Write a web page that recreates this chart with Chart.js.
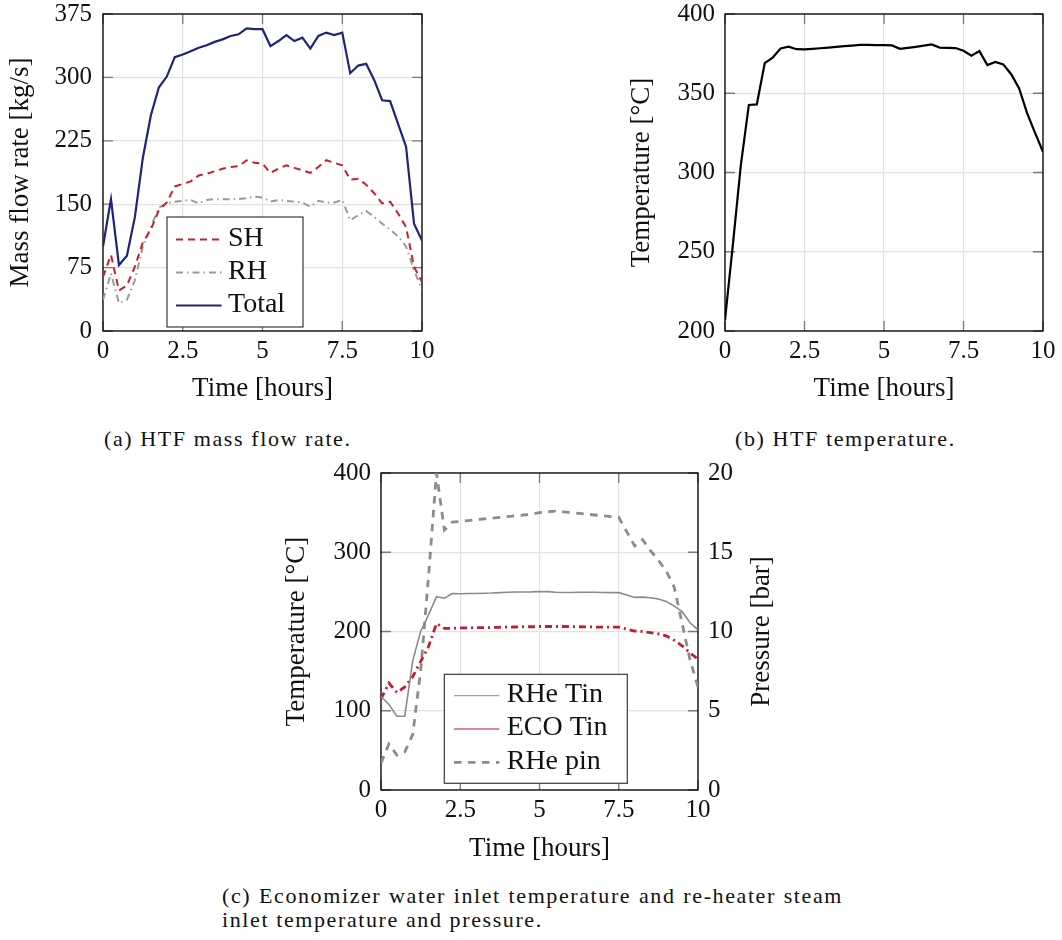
<!DOCTYPE html>
<html><head><meta charset="utf-8">
<script src="https://cdn.jsdelivr.net/npm/chart.js@4.4.1/dist/chart.umd.min.js"></script>
<style>
html,body{margin:0;padding:0;background:#fff;}
body{width:1062px;height:940px;position:relative;overflow:hidden;font-family:"Liberation Serif","Times New Roman",serif;color:#111;}
canvas{position:absolute;}
.cap{position:absolute;font-size:22px;letter-spacing:1.6px;white-space:nowrap;line-height:24px;}
</style></head><body>
<canvas id="ca" width="440" height="420" style="left:0px;top:0px"></canvas>
<canvas id="cb" width="442" height="420" style="left:620px;top:0px"></canvas>
<canvas id="cc" width="530" height="420" style="left:270px;top:460px"></canvas>
<div class="cap" style="left:104px;top:427px">(a) HTF mass flow rate.</div>
<div class="cap" style="left:735px;top:427px">(b) HTF temperature.</div>
<div class="cap" style="left:222px;top:884px;width:621px;text-align:justify;text-align-last:justify;">(c) Economizer water inlet temperature and re-heater steam</div>
<div class="cap" style="left:222px;top:908px">inlet temperature and pressure.</div>
<script>
// ---------- data ----------
const timeHours = [0,0.25,0.5,0.75,1,1.25,1.5,1.75,2,2.25,2.5,2.75,3,3.25,3.5,3.75,4,4.25,4.5,4.75,5,5.25,5.5,5.75,6,6.25,6.5,6.75,7,7.25,7.5,7.75,8,8.25,8.5,8.75,9,9.25,9.5,9.75,10];
const xTicks = [0,2.5,5,7.5,10];

// (a) HTF mass flow rate [kg/s]
const flowSH    = [64,90,48,54,76,105,120,143,152,171,174,177,184,186,189,192,194,195,202,199,198,187,192,196,193,190,187,194,202,199,196,179,180,173,163,151,153,139,123,76,58];
const flowRH    = [37,68,33,37,60,100,123,146,151,153,154,155,151,155,156,156,156,156,157,159,158,153,155,154,153,152,147,154,152,152,155,131,137,142,135,127,120,112,100,72,49];
const flowTotal = [100,156,78,89,135,205,255,288,301,324,327,331,335,338,342,345,349,351,358,357,357,337,343,350,343,347,334,349,353,350,353,305,314,316,297,273,272,245,218,127,107];
const flowTicks = [0,75,150,225,300,375];

// (b) HTF temperature [°C]
const htfTemp = [207,255,305,342.6,343,369,372.5,378.3,379.4,377.8,377.7,378,378.4,378.8,379.3,379.7,380.1,380.5,380.5,380.4,380.4,380.2,378,378.6,379.3,380,380.8,378.8,378.6,378.5,376.8,373.7,376.6,367.8,369.8,368.2,362,353,337.5,325,313];
const htfTicks = [200,250,300,350,400];

// (c) inlet temperatures [°C] and pressure [bar]
const rheTin = [118,108,93,93,163,200,221,244,242,248,247.6,248,248,248.3,248.5,249,249.5,249.8,249.8,250,250.5,250.3,249.5,249.3,249.3,249.5,249.5,249.5,249.3,249,249,246,243,243.4,242.5,241,238,232,225,211,202];
const ecoTin = [115,135,123,130,143,162,181,210,204,204,204.5,204.5,205,205,205,205.3,205.5,205.7,206,206,206.3,206.3,206.3,206.3,206.2,206,205.8,205.6,205.5,205.5,205.5,203,200.5,200,198.5,197,194.5,189,182,173,165];
const rhePin = [1.7,2.9,2.2,2.4,3.5,7.5,13.5,20,16.4,16.9,16.95,17,17.05,17.1,17.15,17.2,17.25,17.3,17.35,17.4,17.5,17.55,17.6,17.55,17.5,17.45,17.4,17.35,17.3,17.25,17.2,16.3,15.4,15.8,15.1,14.5,13.8,12.8,10.5,8.2,6.5];
const tempTicks = [0,100,200,300,400];
const presTicks = [0,5,10,15,20];

// ---------- helpers ----------
const FONT = '"Liberation Serif","Times New Roman",serif';
const TXT = '#111';
const pts = vals => timeHours.map((t,i)=>({x:t,y:vals[i]}));

const pgfAxes = {
  id:'pgfAxes',
  beforeDatasetsDraw(chart,args,o){
    const ctx=chart.ctx, ca=chart.chartArea, xs=chart.scales.x, yl=chart.scales.y, yr=chart.scales[o.right]||yl;
    ctx.save();
    ctx.strokeStyle=o.tickColor; ctx.lineWidth=o.tickWidth;
    ctx.beginPath();
    xs.ticks.forEach(t=>{const px=xs.getPixelForValue(t.value);
      ctx.moveTo(px,ca.bottom); ctx.lineTo(px,ca.bottom-o.len);
      ctx.moveTo(px,ca.top); ctx.lineTo(px,ca.top+o.len);});
    yl.ticks.forEach(t=>{const py=yl.getPixelForValue(t.value);
      ctx.moveTo(ca.left,py); ctx.lineTo(ca.left+o.len,py);});
    yr.ticks.forEach(t=>{const py=yr.getPixelForValue(t.value);
      ctx.moveTo(ca.right,py); ctx.lineTo(ca.right-o.len,py);});
    ctx.stroke();
    ctx.strokeStyle='#000'; ctx.lineWidth=o.frameWidth;
    ctx.strokeRect(ca.left,ca.top,ca.right-ca.left,ca.bottom-ca.top);
    ctx.restore();
  }
};
const pgfLegend = {
  id:'pgfLegend',
  afterDatasetsDraw(chart,args,o){
    if(!o || !o.show) return;
    const ctx=chart.ctx, ca=chart.chartArea;
    ctx.save();
    ctx.font = o.fontSize+'px '+FONT;
    const items = chart.data.datasets.map(d=>({label:d.label,
      st:Object.assign({color:d.borderColor,width:d.borderWidth,dash:d.borderDash||[]}, d.legendStyle||{})}));
    const w = o.width, h = o.height;
    const x0 = ca.left + o.left, y0 = ca.bottom - o.bottom - h;
    ctx.fillStyle='#fff'; ctx.fillRect(x0,y0,w,h);
    ctx.strokeStyle='#3a3a3a'; ctx.lineWidth=1.2; ctx.strokeRect(x0,y0,w,h);
    items.forEach((it,i)=>{
      const y = y0 + o.firstRow + i*o.rowH;
      ctx.beginPath(); ctx.setLineDash(it.st.dash); ctx.strokeStyle=it.st.color; ctx.lineWidth=it.st.width;
      ctx.moveTo(x0+o.sampleX0,y); ctx.lineTo(x0+o.sampleX1,y); ctx.stroke();
      ctx.setLineDash([]);
      ctx.fillStyle=TXT; ctx.textBaseline='middle'; ctx.textAlign='left';
      ctx.fillText(it.label, x0+o.textX, y+o.textDy);
    });
    ctx.restore();
  }
};
const sideTitle = {
  id:'sideTitle',
  afterDraw(chart,args,o){
    if(!o || !o.text) return;
    const ctx=chart.ctx, ca=chart.chartArea;
    ctx.save();
    ctx.translate(o.x,(ca.top+ca.bottom)/2); ctx.rotate(-Math.PI/2);
    ctx.font=o.fontSize+'px '+FONT; ctx.fillStyle=TXT; ctx.textAlign='center'; ctx.textBaseline='middle';
    ctx.fillText(o.text,0,0);
    ctx.restore();
  }
};
function zeroPad(s){s.paddingTop=0;s.paddingBottom=0;s.paddingLeft=0;s.paddingRight=0;}
function xAxis(h,tickPad,titlePad){
  return {type:'linear',position:'bottom',min:0,max:10,
    afterBuildTicks(s){s.ticks=xTicks.map(v=>({value:v}));},
    ticks:{color:TXT,font:{family:FONT,size:25},padding:tickPad,maxRotation:0,autoSkip:false},
    grid:{color:'#e2e2e2',lineWidth:1.2,drawTicks:false},
    border:{display:false},
    title:{display:true,text:'Time [hours]',color:TXT,font:{family:FONT,size:27},padding:{top:0,bottom:titlePad}},
    afterFit(s){s.height=h;zeroPad(s);}
  };
}
function yAxis(pos,min,max,tickVals,w,tickPad,title,titlePad,grid){
  return {type:'linear',position:pos,min:min,max:max,
    afterBuildTicks(s){s.ticks=tickVals.map(v=>({value:v}));},
    ticks:{color:TXT,font:{family:FONT,size:25},padding:tickPad},
    grid:grid?{color:'#e2e2e2',lineWidth:1.2,drawTicks:false}:{display:false,drawTicks:false},
    border:{display:false},
    title:title?{display:true,text:title,color:TXT,font:{family:FONT,size:27},padding:{top:titlePad,bottom:0}}:{display:false},
    afterFit(s){s.width=w;zeroPad(s);}
  };
}
function baseOpts(pad){
  return {responsive:false,animation:false,devicePixelRatio:1,events:[],
    layout:{padding:pad},
    elements:{point:{radius:0},line:{tension:0}},
  };
}
const axesOpt = {len:10,tickColor:'#7a7a7a',tickWidth:1.3,frameWidth:1.3};
const legendOpt = {show:true,fontSize:28,width:136,height:110,firstRow:22.5,rowH:33,sampleX0:9,sampleX1:54.5,textX:61,textDy:-1};

// ---------- chart (a) ----------
new Chart(document.getElementById('ca'),{
  type:'line',
  data:{datasets:[
    {label:'SH',data:pts(flowSH),borderColor:'#c8202f',borderWidth:2,borderDash:[7,5]},
    {label:'RH',data:pts(flowRH),borderColor:'#9a9a9a',borderWidth:2,borderDash:[7,4,1.5,4]},
    {label:'Total',data:pts(flowTotal),borderColor:'#1f2379',borderWidth:2.2}
  ]},
  options:Object.assign(baseOpts({left:0,top:14,right:18,bottom:0}),{
    scales:{x:xAxis(89,5,15),y:yAxis('left',0,375,flowTicks,103,11,'Mass flow rate [kg/s]',5,true)},
    plugins:{legend:{display:false},tooltip:{enabled:false},pgfAxes:axesOpt,
      pgfLegend:Object.assign({},legendOpt,{left:64,bottom:4})}
  }),
  plugins:[pgfAxes,pgfLegend]
});

// ---------- chart (b) ----------
new Chart(document.getElementById('cb'),{
  type:'line',
  data:{datasets:[
    {label:'HTF temperature',data:pts(htfTemp),borderColor:'#000',borderWidth:2.2}
  ]},
  options:Object.assign(baseOpts({left:0,top:14,right:19,bottom:0}),{
    scales:{x:xAxis(89,5,15),y:yAxis('left',200,400,htfTicks,105,10,'Temperature [°C]',6,true)},
    plugins:{legend:{display:false},tooltip:{enabled:false},pgfAxes:axesOpt}
  }),
  plugins:[pgfAxes]
});

// ---------- chart (c) ----------
new Chart(document.getElementById('cc'),{
  type:'line',
  data:{datasets:[
    {label:'RHe Tin',data:pts(rheTin),yAxisID:'y',borderColor:'#8a8a8a',borderWidth:1.6,
      legendStyle:{color:'#a0a0a0',width:1.3}},
    {label:'ECO Tin',data:pts(ecoTin),yAxisID:'y',borderColor:'#c21d33',borderWidth:2.8,borderDash:[7,4,2,4],
      legendStyle:{color:'#d0606c',width:1.3,dash:[]}},
    {label:'RHe pin',data:pts(rhePin),yAxisID:'p',borderColor:'#8c8c8c',borderWidth:2.8,borderDash:[7.5,6.5]}
  ]},
  options:Object.assign(baseOpts({left:0,top:13,right:0,bottom:0}),{
    scales:{x:xAxis(90,5,15),
      y:yAxis('left',0,400,tempTicks,111,10,'Temperature [°C]',11,true),
      p:yAxis('right',0,20,presTicks,102,10,null,0,false)},
    plugins:{legend:{display:false},tooltip:{enabled:false},pgfAxes:Object.assign({},axesOpt,{right:'p'}),
      pgfLegend:Object.assign({},legendOpt,{left:63.3,bottom:6.7,width:183,height:109,firstRow:21.4,rowH:33.3,sampleX0:9.7,sampleX1:55,textX:62.4}),
      sideTitle:{text:'Pressure [bar]',x:492,fontSize:27}}
  }),
  plugins:[pgfAxes,pgfLegend,sideTitle]
});
</script>
</body></html>
